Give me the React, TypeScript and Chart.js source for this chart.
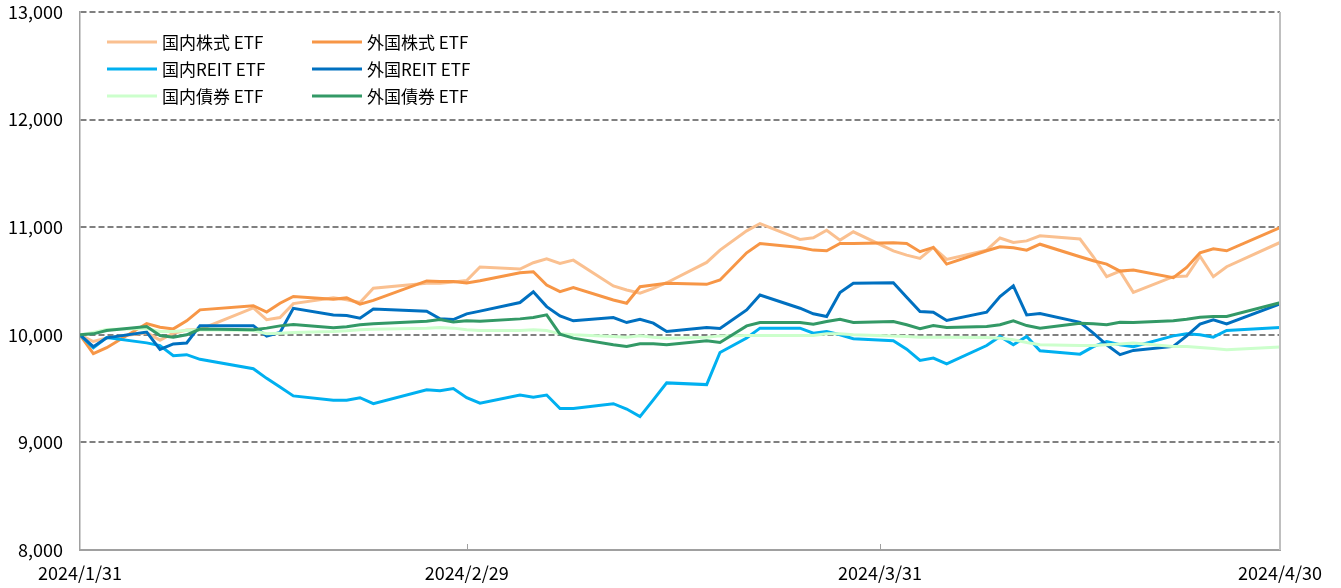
import React, { useEffect, useRef } from 'react';
import { Chart, registerables } from 'chart.js';

Chart.register(...registerables);

const START_DATE = '2024-01-31';

const dates = [
  '2024-01-31',
  '2024-02-01', '2024-02-02', '2024-02-05', '2024-02-06', '2024-02-07', '2024-02-08', '2024-02-09',
  '2024-02-13', '2024-02-14', '2024-02-15', '2024-02-16', '2024-02-19', '2024-02-20', '2024-02-21',
  '2024-02-22', '2024-02-26', '2024-02-27', '2024-02-28', '2024-02-29',
  '2024-03-01', '2024-03-04', '2024-03-05', '2024-03-06', '2024-03-07', '2024-03-08', '2024-03-11',
  '2024-03-12', '2024-03-13', '2024-03-14', '2024-03-15', '2024-03-18', '2024-03-19', '2024-03-21',
  '2024-03-22', '2024-03-25', '2024-03-26', '2024-03-27', '2024-03-28', '2024-03-29',
  '2024-04-01', '2024-04-02', '2024-04-03', '2024-04-04', '2024-04-05', '2024-04-08', '2024-04-09',
  '2024-04-10', '2024-04-11', '2024-04-12', '2024-04-15', '2024-04-16', '2024-04-17', '2024-04-18',
  '2024-04-19', '2024-04-22', '2024-04-23', '2024-04-24', '2024-04-25', '2024-04-26', '2024-04-30',
];

const seriesNames = ['国内株式 ETF', '外国株式 ETF', '国内REIT ETF', '外国REIT ETF', '国内債券 ETF', '外国債券 ETF'];
const seriesColors = ['#FAC090', '#F79646', '#00B0F0', '#0070C0', '#CCFFCC', '#339966'];

const domesticEquity = [
  10000,
  9938, 9970, 10020, 9950, 10015, 10045, 10050,
  10250, 10140, 10160, 10290, 10345, 10325, 10300,
  10433, 10480, 10480, 10490, 10505,
  10630, 10611, 10670, 10707, 10663, 10694, 10454,
  10417, 10386, 10432, 10484, 10673, 10787, 10966,
  11034, 10886, 10901, 10972, 10880, 10957,
  10780, 10740, 10710, 10812, 10700, 10787, 10900,
  10858, 10873, 10920, 10890, 10725, 10540, 10592,
  10395, 10540, 10546, 10731, 10540, 10633, 10858,
];

const foreignEquity = [
  10000,
  9824, 9880, 10105, 10070, 10055, 10130, 10232,
  10270, 10212, 10293, 10356, 10330, 10343, 10285,
  10320, 10501, 10496, 10496, 10482,
  10502, 10577, 10586, 10463, 10401, 10438, 10324,
  10293, 10447, 10463, 10478, 10469, 10509, 10762,
  10849, 10812, 10787, 10781, 10849, 10849,
  10855, 10849, 10772, 10812, 10657, 10781, 10818,
  10809, 10787, 10842, 10725, 10688, 10657, 10592,
  10602, 10531, 10626, 10762, 10799, 10781, 10997,
];

const domesticReit = [
  10000,
  9880, 9975, 9925, 9900, 9805, 9815, 9772,
  9685, 9595, 9515, 9432, 9392, 9392, 9415,
  9360, 9490, 9480, 9500, 9415,
  9365, 9440, 9420, 9440, 9315, 9315, 9360,
  9310, 9240, 9395, 9553, 9537, 9836, 9970,
  10062, 10062, 10015, 10030, 10000, 9963,
  9945, 9867, 9762, 9784, 9730, 9900, 9985,
  9907, 9985, 9852, 9820, 9890, 9938, 9907,
  9890, 9990, 10010, 10000, 9978, 10040, 10068,
];

const foreignReit = [
  10000,
  9890, 9972, 10025, 9865, 9915, 9924, 10085,
  10085, 9988, 10021, 10246, 10184, 10180, 10155,
  10240, 10220, 10149, 10142, 10195,
  10220, 10300, 10400, 10262, 10176, 10130, 10160,
  10114, 10145, 10108, 10030, 10068, 10058, 10231,
  10370, 10247, 10195, 10170, 10392, 10478,
  10484, 10349, 10216, 10210, 10133, 10210, 10355,
  10454, 10185, 10197, 10116, 10015, 9907, 9815,
  9855, 9892, 9990, 10100, 10140, 10102, 10287,
];

const domesticBond = [
  10000,
  10022, 10050, 10058, 10031, 10031, 10040, 10046,
  10040, 10010, 10015, 10022, 10031, 10037, 10046,
  10052, 10062, 10068, 10062, 10046,
  10040, 10040, 10046, 10040, 10009, 10000, 9985,
  9978, 9990, 9978, 9969, 9978, 9990, 9994,
  9994, 9994, 9994, 10009, 10009, 10000,
  9990, 9985, 9978, 9978, 9978, 9975, 9969,
  9954, 9929, 9907, 9901, 9901, 9907, 9914,
  9923, 9892, 9892, 9883, 9873, 9861, 9886,
];

const foreignBond = [
  10000,
  10009, 10040, 10077, 9994, 9978, 10000, 10053,
  10046, 10062, 10083, 10096, 10066, 10075, 10093,
  10102, 10127, 10142, 10118, 10130,
  10125, 10148, 10160, 10185, 10006, 9969, 9907,
  9892, 9917, 9917, 9907, 9944, 9929, 10083,
  10114, 10114, 10099, 10123, 10145, 10114,
  10123, 10093, 10056, 10086, 10068, 10077, 10093,
  10130, 10086, 10062, 10108, 10102, 10093, 10117,
  10114, 10130, 10145, 10164, 10170, 10170, 10299,
];

const seriesValues = [domesticEquity, foreignEquity, domesticReit, foreignReit, domesticBond, foreignBond];

const xTickDates = ['2024-01-31', '2024-02-29', '2024-03-31', '2024-04-30'];
const xTickLabels = ['2024/1/31', '2024/2/29', '2024/3/31', '2024/4/30'];
const yTicks = [8000, 9000, 10000, 11000, 12000, 13000];

const FONT = '"Noto Sans CJK JP", "Noto Sans", sans-serif';

const dayOffset = (d: string) => Math.round((Date.parse(d) - Date.parse(START_DATE)) / 86400000);

const legendPlugin = {
  id: 'insideLegend',
  afterDraw(chart: any) {
    const { ctx, chartArea } = chart;
    ctx.save();
    chart.data.datasets.forEach((ds: any, i: number) => {
      const col = i % 2;
      const row = Math.floor(i / 2);
      const x0 = chartArea.left + 27 + col * 205;
      const y = chartArea.top + 30 + row * 27;
      ctx.strokeStyle = ds.borderColor;
      ctx.lineWidth = 3;
      ctx.setLineDash([]);
      ctx.beginPath();
      ctx.moveTo(x0, y);
      ctx.lineTo(x0 + 50, y);
      ctx.stroke();
      ctx.fillStyle = '#000';
      ctx.font = '17px ' + FONT;
      ctx.textBaseline = 'middle';
      ctx.textAlign = 'left';
      ctx.fillText(ds.label, x0 + 55, y + 1);
    });
    ctx.restore();
  },
};

const framePlugin = {
  id: 'frameExtras',
  afterDatasetsDraw(chart: any) {
    const { ctx, chartArea, scales } = chart;
    ctx.save();
    ctx.strokeStyle = '#BFBFBF';
    ctx.lineWidth = 2;
    ctx.beginPath();
    ctx.moveTo(chartArea.right, chartArea.top);
    ctx.lineTo(chartArea.right, chartArea.bottom);
    ctx.stroke();
    ctx.strokeStyle = '#A0A0A0';
    ctx.lineWidth = 1;
    xTickDates.slice(1, -1).forEach((d) => {
      const x = Math.round(scales.x.getPixelForValue(dayOffset(d))) + 0.5;
      ctx.beginPath();
      ctx.moveTo(x, chartArea.bottom);
      ctx.lineTo(x, chartArea.bottom - 6);
      ctx.stroke();
    });
    ctx.restore();
  },
};

export default function App() {
  const canvasRef = useRef<HTMLCanvasElement | null>(null);

  useEffect(() => {
    const canvas = canvasRef.current;
    if (!canvas) return;
    const datasets = seriesNames.map((name, i) => ({
      label: name,
      data: dates.map((d, j) => ({ x: dayOffset(d), y: seriesValues[i][j] })),
      borderColor: seriesColors[i],
      backgroundColor: seriesColors[i],
      borderWidth: 3,
      pointRadius: 0,
      pointHoverRadius: 0,
      tension: 0,
      fill: false,
      order: seriesNames.length - 1 - i,
    }));

    const chart = new Chart(canvas, {
      type: 'line',
      data: { datasets },
      options: {
        responsive: false,
        animation: false,
        layout: { padding: { top: 12, right: 61, left: 0, bottom: 0 } },
        plugins: {
          legend: { display: false },
          tooltip: { enabled: false },
        },
        scales: {
          x: {
            type: 'linear',
            min: 0,
            max: dayOffset(xTickDates[xTickDates.length - 1]),
            afterBuildTicks: (scale: any) => {
              scale.ticks = xTickDates.map((d) => ({ value: dayOffset(d) }));
            },
            afterFit: (scale: any) => {
              scale.height = 38;
              scale.paddingLeft = 0;
              scale.paddingRight = 0;
            },
            ticks: {
              autoSkip: false,
              maxRotation: 0,
              padding: 12,
              color: '#000',
              font: { size: 18, family: FONT },
              callback: (v: any) => {
                const idx = xTickDates.findIndex((d) => dayOffset(d) === v);
                return idx >= 0 ? xTickLabels[idx] : '';
              },
            },
            grid: { display: false, drawTicks: false },
            border: { display: true, color: '#A0A0A0', width: 2 },
          },
          y: {
            min: yTicks[0],
            max: yTicks[yTicks.length - 1],
            afterBuildTicks: (scale: any) => {
              scale.ticks = yTicks.map((v) => ({ value: v }));
            },
            afterFit: (scale: any) => {
              scale.width = 80;
              scale.paddingTop = 0;
              scale.paddingBottom = 0;
            },
            ticks: {
              padding: 17,
              color: '#000',
              font: { size: 18, family: FONT },
              callback: (v: any) => Number(v).toLocaleString('en-US'),
            },
            grid: {
              drawTicks: false,
              lineWidth: 2,
              color: (ctx: any) => (ctx.tick && ctx.tick.value === yTicks[0] ? 'rgba(0,0,0,0)' : '#808080'),
            },
            border: { display: true, color: '#A0A0A0', width: 1.5, dash: [6, 3] },
          },
        },
      },
      plugins: [framePlugin, legendPlugin],
    });

    return () => chart.destroy();
  }, []);

  return (
    <div style={{ position: 'fixed', left: 0, top: 0, width: 1341, height: 588, background: '#fff' }}>
      <canvas ref={canvasRef} width={1341} height={588} style={{ display: 'block' }} />
    </div>
  );
}
